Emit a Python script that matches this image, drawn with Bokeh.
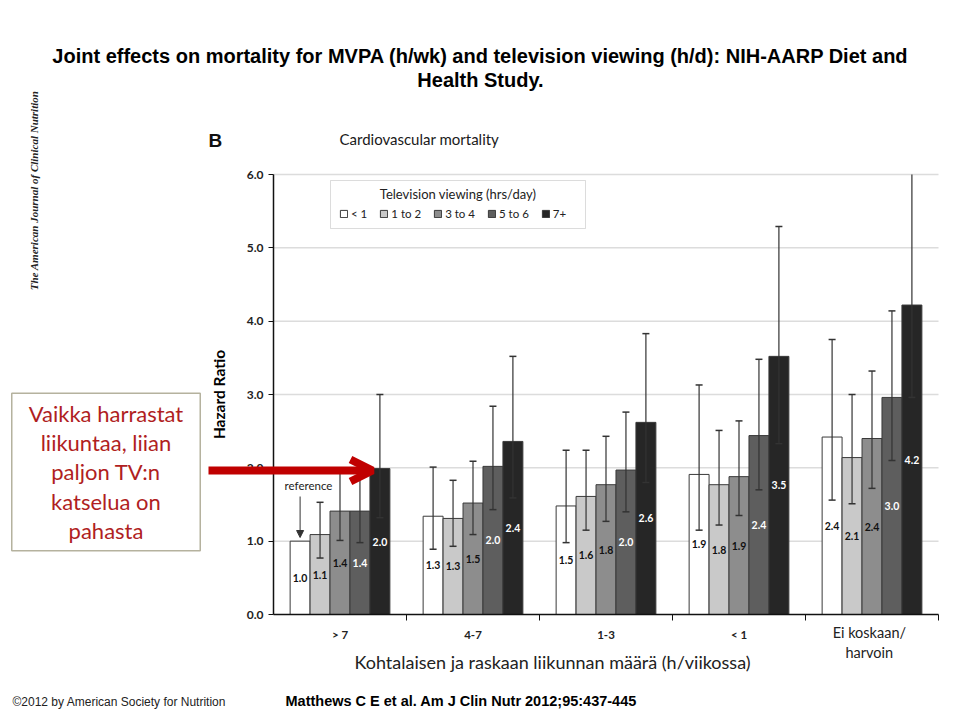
import math
import numpy as np
from bokeh.plotting import figure
from bokeh.models import (Range1d, FixedTicker, PrintfTickFormatter, Label, Arrow,
                          NormalHead, OpenHead, BoxAnnotation, ColumnDataSource)
from bokeh.core.properties import value
from bokeh.embed import file_html
from bokeh.resources import INLINE

# ---------------- data ----------------
groups = ["> 7", "4-7", "1-3", "< 1", "Ei koskaan/\nharvoin"]
tv_levels = ["< 1", "1 to 2", "3 to 4", "5 to 6", "7+"]
y_ticks = [0, 1, 2, 3, 4, 5, 6]

hr_tv_lt1 = [1.00, 1.34, 1.48, 1.91, 2.42]
hr_tv_1to2 = [1.09, 1.31, 1.61, 1.77, 2.14]
hr_tv_3to4 = [1.41, 1.52, 1.77, 1.88, 2.40]
hr_tv_5to6 = [1.41, 2.02, 1.97, 2.44, 2.96]
hr_tv_7p = [1.99, 2.36, 2.62, 3.52, 4.22]

lo_tv_lt1 = [np.nan, 0.89, 0.98, 1.15, 1.56]
hi_tv_lt1 = [np.nan, 2.01, 2.24, 3.13, 3.75]
lo_tv_1to2 = [0.77, 0.93, 1.15, 1.22, 1.51]
hi_tv_1to2 = [1.53, 1.83, 2.24, 2.51, 3.00]
lo_tv_3to4 = [1.01, 1.09, 1.27, 1.35, 1.72]
hi_tv_3to4 = [2.00, 2.09, 2.43, 2.64, 3.32]
lo_tv_5to6 = [0.98, 1.43, 1.40, 1.70, 2.10]
hi_tv_5to6 = [2.05, 2.84, 2.76, 3.48, 4.14]
lo_tv_7p = [1.32, 1.59, 1.80, 2.33, 2.96]
hi_tv_7p = [3.00, 3.52, 3.83, 5.29, 6.00]   # last one runs off the top of the axis

series_hr = [hr_tv_lt1, hr_tv_1to2, hr_tv_3to4, hr_tv_5to6, hr_tv_7p]
series_lo = [lo_tv_lt1, lo_tv_1to2, lo_tv_3to4, lo_tv_5to6, lo_tv_7p]
series_hi = [hi_tv_lt1, hi_tv_1to2, hi_tv_3to4, hi_tv_5to6, hi_tv_7p]

# ---------------- styles ----------------
bar_colors = ["#ffffff", "#c9c9c9", "#8d8d8d", "#5e5e5e", "#262626"]
label_colors = ["#111111", "#111111", "#111111", "#ffffff", "#ffffff"]
CHART_FONT = "Lato"
SLIDE_FONT = "Liberation Sans"

W, H = 960, 720
# chart plot area on the page (pixels)
PL, PR, PT, PB = 273, 938, 174, 614
NG = len(groups)
YMAX = 6.0
X_PER = (PR - PL) / NG
Y_PER = (PB - PT) / YMAX


def dx(px):
    return (px - PL) / X_PER


def dy(py):
    return (PB - py) / Y_PER


p = figure(width=W, height=H, x_range=Range1d(dx(0), dx(W)), y_range=Range1d(dy(H), dy(0)),
           output_backend="svg", toolbar_location=None,
           min_border=0, min_border_left=0, min_border_right=0, min_border_top=0, min_border_bottom=0)
p.outline_line_color = None
p.background_fill_color = "white"
p.border_fill_color = "white"
p.xgrid.visible = False
p.ygrid.visible = False

BW = 0.15
centers = np.arange(NG) + 0.5

# grid lines across the chart area
grid_y = [t for t in y_ticks if t > 0]
p.segment(x0=[0] * len(grid_y), y0=grid_y, x1=[NG] * len(grid_y), y1=grid_y,
          line_color="#dcdcdc", line_width=1.5)

for i, name in enumerate(tv_levels):
    xs = centers + (i - 2) * BW
    vals = series_hr[i]
    hi = series_hi[i]
    src = ColumnDataSource(dict(
        x=xs, top=vals, lo=series_lo[i], hi=hi,
        hicap=[h if h < YMAX else np.nan for h in hi],
        lab=[f"{v:.1f}" for v in vals], ly=[v / 2 for v in vals]))
    p.vbar(x="x", top="top", width=BW, source=src, fill_color=bar_colors[i],
           line_color="#3a3a3a", line_width=1, legend_label=name)
    p.segment(x0="x", y0="lo", x1="x", y1="hi", source=src, line_color="#333333", line_width=1.2)
    p.scatter(x="x", y="lo", source=src, marker="dash", size=7, line_color="#333333", line_width=1.5)
    p.scatter(x="x", y="hicap", source=src, marker="dash", size=7, line_color="#333333", line_width=1.5)
    p.text(x="x", y="ly", text="lab", source=src, text_align="center", text_baseline="middle",
           text_color=label_colors[i], text_font=value(CHART_FONT), text_font_style="bold",
           text_font_size="10.5px")

# ---------------- axes ----------------
yax = p.yaxis[0]
yax.fixed_location = 0
yax.bounds = (0, YMAX)
yax.ticker = FixedTicker(ticks=y_ticks)
yax.formatter = PrintfTickFormatter(format="%.1f")
yax.major_label_text_font = CHART_FONT
yax.major_label_text_font_style = "bold"
yax.major_label_text_font_size = "12px"
yax.major_label_text_color = "#222222"
yax.major_label_standoff = 5
yax.axis_line_width = 1.5
yax.axis_line_color = "#111111"
yax.major_tick_out = 5
yax.major_tick_in = 0
yax.major_tick_line_color = "#111111"
yax.minor_tick_line_color = None
yax.axis_label = "Hazard Ratio"
yax.axis_label_text_font = CHART_FONT
yax.axis_label_text_font_style = "bold"
yax.axis_label_text_font_size = "15.5px"
yax.axis_label_text_color = "#000000"
yax.axis_label_standoff = 16

xax = p.xaxis[0]
xax.fixed_location = 0
xax.bounds = (0, NG)
xax.ticker = FixedTicker(ticks=list(centers), minor_ticks=list(range(1, NG + 1)))
xax.major_label_overrides = {float(c): (g if "\n" not in g else "") for c, g in zip(centers, groups)}
xax.major_tick_line_color = None
xax.minor_tick_out = 6
xax.minor_tick_in = 0
xax.minor_tick_line_color = "#111111"
xax.axis_line_width = 1.5
xax.axis_line_color = "#111111"
xax.major_label_standoff = 7
xax.major_label_text_font = CHART_FONT
xax.major_label_text_font_style = "bold"
xax.major_label_text_font_size = "11.5px"
xax.major_label_text_color = "#222222"

# last group label (two lines, larger)
for k, line in enumerate(groups[-1].split("\n")):
    p.add_layout(Label(x=centers[-1] - 0.02, y=dy(632 + 20 * k), text=line, text_align="center",
                       text_baseline="middle", text_font=CHART_FONT, text_font_size="14.5px",
                       text_color="#222222"))

# ---------------- legend ----------------
leg = p.legend[0]
leg.orientation = "horizontal"
leg.location = (339, 500)
leg.border_line_color = None
leg.background_fill_alpha = 0
leg.glyph_width = 9
leg.glyph_height = 9
leg.label_height = 12
leg.label_width = 10
leg.label_standoff = 3
leg.spacing = 12
leg.padding = 0
leg.margin = 0
leg.label_text_font = CHART_FONT
leg.label_text_font_size = "11.5px"
leg.label_text_color = "#222222"

p.add_layout(BoxAnnotation(left=dx(330), right=dx(585), top=dy(180), bottom=dy(228),
                           fill_color=None, line_color="#8c8c8c", line_width=1))
p.add_layout(Label(x=dx(457.5), y=dy(193), text="Television viewing (hrs/day)", text_align="center",
                   text_baseline="middle", text_font=CHART_FONT, text_font_size="13px",
                   text_color="#222222"))

# ---------------- chart annotations ----------------
p.add_layout(Label(x=dx(339), y=dy(138), text="Cardiovascular mortality", text_align="left",
                   text_baseline="middle", text_font=CHART_FONT, text_font_size="15px",
                   text_color="#1a1a1a"))
p.add_layout(Label(x=dx(208), y=dy(140), text="B", text_align="left", text_baseline="middle",
                   text_font=SLIDE_FONT, text_font_style="bold", text_font_size="19px",
                   text_color="#111111"))
p.add_layout(Label(x=dx(552), y=dy(661), text="Kohtalaisen ja raskaan liikunnan määrä (h/viikossa)",
                   text_align="center", text_baseline="middle", text_font=CHART_FONT,
                   text_font_size="18px", text_color="#222222"))

ref_x = centers[0] - 2 * BW
p.add_layout(Label(x=dx(308), y=dy(485), text="reference", text_align="center", text_baseline="middle",
                   text_font=CHART_FONT, text_font_size="11.5px", text_color="#222222"))
p.add_layout(Arrow(x_start=ref_x, y_start=dy(496), x_end=ref_x, y_end=hr_tv_lt1[0] + 0.05,
                   line_color="#333333", line_width=1,
                   end=NormalHead(size=7, fill_color="#333333", line_color="#333333")))

# red arrow
p.add_layout(Arrow(x_start=dx(208), y_start=dy(470), x_end=dx(372), y_end=dy(470),
                   line_color="#c00000", line_width=8,
                   end=OpenHead(size=22, line_color="#c00000", line_width=8)))

# ---------------- slide texts ----------------
p.add_layout(Label(x=dx(480), y=dy(55),
                   text="Joint effects on mortality for MVPA (h/wk) and television viewing (h/d): NIH-AARP Diet and",
                   text_align="center", text_baseline="middle", text_font=SLIDE_FONT,
                   text_font_style="bold", text_font_size="20px", text_color="#000000"))
p.add_layout(Label(x=dx(480), y=dy(79), text="Health Study.", text_align="center",
                   text_baseline="middle", text_font=SLIDE_FONT, text_font_style="bold",
                   text_font_size="20px", text_color="#000000"))

p.add_layout(Label(x=dx(33), y=dy(190), text="The American Journal of Clinical Nutrition",
                   angle=math.pi / 2, text_align="center", text_baseline="middle",
                   text_font="Liberation Serif", text_font_style="bold italic",
                   text_font_size="11px", text_color="#222222"))

p.add_layout(Label(x=dx(105.5), y=dy(471.5),
                   text="Vaikka harrastat\nliikuntaa, liian\npaljon TV:n\nkatselua on\npahasta",
                   text_align="center", text_baseline="middle", text_font=CHART_FONT,
                   text_font_size="22px", text_color="#b01e22", text_line_height=1.08,
                   border_line_color="#b5b29e", border_line_width=1.5,
                   background_fill_color="white", padding=(17, 7)))

p.add_layout(Label(x=dx(12), y=dy(701), text="©2012 by American Society for Nutrition",
                   text_align="left", text_baseline="middle", text_font=SLIDE_FONT,
                   text_font_size="12px", text_color="#222222"))
p.add_layout(Label(x=dx(285), y=dy(700), text="Matthews C E et al. Am J Clin Nutr 2012;95:437-445",
                   text_align="left", text_baseline="middle", text_font=SLIDE_FONT,
                   text_font_style="bold", text_font_size="14.5px", text_color="#000000"))

open("out.html", "w").write(file_html(p, INLINE))
